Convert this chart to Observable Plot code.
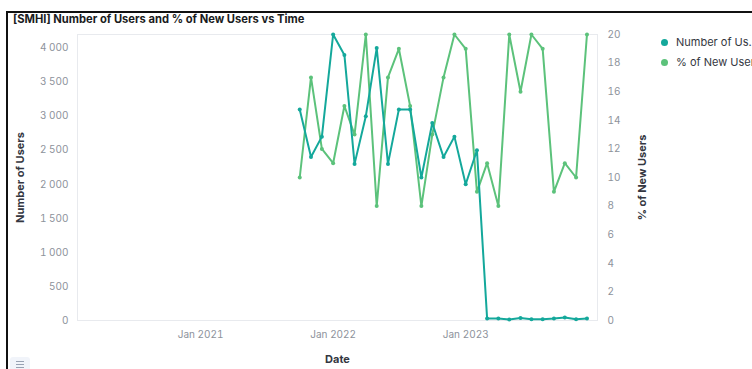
<!DOCTYPE html>
<html>
<head>
<meta charset="utf-8">
<script src="https://cdn.jsdelivr.net/npm/d3@7"></script>
<script src="https://cdn.jsdelivr.net/npm/@observablehq/plot@0.6"></script>
<style>
  html, body { margin: 0; padding: 0; background: #fff; }
  #wrap { position: relative; width: 752px; height: 369px; overflow: hidden; font-family: Inter, "Noto Sans", sans-serif; }
  #wrap svg { position: absolute; left: 0; top: 0; }
  .border-top { position: absolute; left: 7px; top: 11px; width: 745px; height: 2px; background: #111; }
  .border-left { position: absolute; left: 6px; top: 11px; width: 2px; height: 358px; background: #111; }
  .title { position: absolute; left: 13px; top: 13px; font-size: 11.2px; line-height: 13px; font-weight: 700; color: #1a1c21; white-space: nowrap; }
  .legend { position: absolute; left: 661px; display: inline-block; font-size: 11px; color: #343741; white-space: nowrap; }
  .legend span.dot { display: inline-block; width: 7px; height: 7px; border-radius: 50%; margin-right: 8px; vertical-align: 0px; }
  .menu { position: absolute; left: 10px; top: 357px; width: 20px; height: 16px; background: #f1f4fa; border-radius: 3px; }
  .menu i { position: absolute; left: 6px; width: 8px; height: 1px; background: #98a2b3; }
</style>
</head>
<body>
<div id="wrap"></div>
<script>
const months = ["2021-10","2021-11","2021-12","2022-01","2022-02","2022-03","2022-04","2022-05","2022-06","2022-07","2022-08","2022-09","2022-10","2022-11","2022-12","2023-01","2023-02","2023-03","2023-04","2023-05","2023-06","2023-07","2023-08","2023-09","2023-10","2023-11","2023-12"];
const users = [3100, 2400, 2700, 4200, 3900, 2300, 3000, 4000, 2300, 3100, 3100, 2100, 2900, 2400, 2700, 2000, 2500, 30, 30, 15, 35, 20, 20, 30, 45, 20, 30];
const newPct = [10, 17, 12, 11, 15, 13, 20, 8, 17, 19, 15, 8, 13, 17, 20, 19, 9, 11, 8, 20, 16, 20, 19, 9, 11, 10, 20];
const xTicks = ["2021-01", "2022-01", "2023-01"];
const usersTicks = [0, 500, 1000, 1500, 2000, 2500, 3000, 3500, 4000];
const pctTicks = [0, 2, 4, 6, 8, 10, 12, 14, 16, 18, 20];
const seriesNames = ["Number of Us\u2026", "% of New Users"];
const colors = ["#14a89b", "#5cc27b"];

const usersMax = 4200, pctMax = 20, k = usersMax / pctMax;
const parse = d3.utcParse("%Y-%m");
const rows = months.map((m, i) => ({date: parse(m), users: users[i], pct: newPct[i]}));
const fmt = d3.formatLocale({thousands: "\u00a0", grouping: [3], decimal: ".", currency: ["", ""]}).format(",");
const monthFmt = d3.utcFormat("%b %Y");
const tickColor = "#8d929b";

const chart = Plot.plot({
  width: 752, height: 369,
  marginLeft: 77, marginRight: 155, marginTop: 34, marginBottom: 49,
  style: {fontFamily: "Inter, 'Noto Sans', sans-serif", background: "transparent", overflow: "visible"},
  x: {type: "utc", domain: [new Date(Date.UTC(2020,0,28)), new Date(Date.UTC(2023,11,30))]},
  y: {domain: [0, usersMax]},
  marks: [
    Plot.frame({stroke: "#e8eaee", strokeWidth: 1}),
    Plot.axisY(usersTicks, {anchor: "left", tickSize: 0, tickPadding: 9, tickFormat: fmt, fill: tickColor, fontSize: 10, label: null}),
    Plot.axisY(pctTicks.map(d => d * k), {anchor: "right", tickSize: 0, tickPadding: 10, tickFormat: d => String(Math.round(d / k)), fill: tickColor, fontSize: 10, label: null}),
    Plot.axisX(xTicks.map(parse), {tickSize: 0, tickPadding: 10, tickFormat: monthFmt, fill: tickColor, fontSize: 10, label: null}),
    Plot.line(rows, {x: "date", y: d => d.pct * k, stroke: colors[1], strokeWidth: 2, curve: "linear"}),
    Plot.dot(rows, {x: "date", y: d => d.pct * k, fill: colors[1], r: 2}),
    Plot.line(rows, {x: "date", y: "users", stroke: colors[0], strokeWidth: 2, curve: "linear"}),
    Plot.dot(rows, {x: "date", y: "users", fill: colors[0], r: 2}),
    Plot.text(["Number of Users"], {frameAnchor: "left", dx: -57, rotate: -90, textAnchor: "middle", fontWeight: 700, fontSize: 11, fill: "#343741"}),
    Plot.text(["% of New Users"], {frameAnchor: "right", dx: 45, rotate: -90, textAnchor: "middle", fontWeight: 700, fontSize: 11, fill: "#343741"}),
    Plot.text(["Date"], {frameAnchor: "bottom", dy: 42, textAnchor: "middle", fontWeight: 700, fontSize: 11, fill: "#343741"})
  ]
});

const wrap = document.getElementById("wrap");
wrap.appendChild(chart);
wrap.insertAdjacentHTML("beforeend", `
  <div class="border-top"></div>
  <div class="border-left"></div>
  <div class="title">[SMHI] Number of Users and % of New Users vs Time</div>
  ${seriesNames.map((n, i) => `<div class="legend" style="top:${35 + i * 20}px"><span class="dot" style="background:${colors[i]}"></span>${n}</div>`).join("")}
  <div class="menu"><i style="top:4px"></i><i style="top:7px"></i><i style="top:10px"></i></div>
`);
</script>
</body>
</html>
